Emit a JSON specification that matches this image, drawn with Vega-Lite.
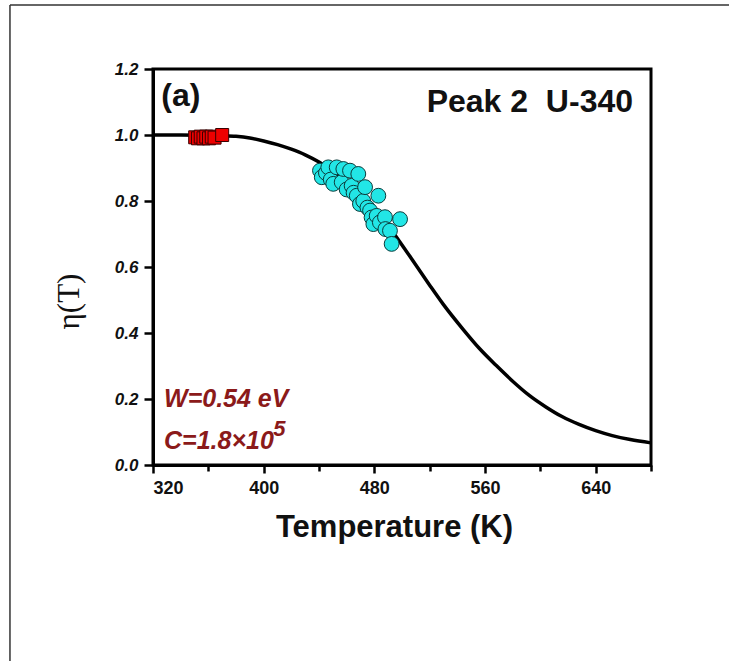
{
  "$schema": "https://vega.github.io/schema/vega-lite/v6.json",
  "width": 498,
  "height": 396,
  "autosize": "none",
  "padding": {"left": 153, "top": 69, "right": 78, "bottom": 196},
  "background": "white",
  "config": {
    "view": {"stroke": "black", "strokeWidth": 3},
    "font": "Liberation Sans"
  },
  "datasets": {
    "curve": [
      {"T": 320, "eta": 1.0}, {"T": 340, "eta": 1.0}, {"T": 360, "eta": 0.999}, {"T": 370, "eta": 0.998},
      {"T": 380, "eta": 0.996}, {"T": 390, "eta": 0.991}, {"T": 400, "eta": 0.982}, {"T": 410, "eta": 0.971},
      {"T": 420, "eta": 0.957}, {"T": 430, "eta": 0.94}, {"T": 440, "eta": 0.918}, {"T": 450, "eta": 0.891},
      {"T": 460, "eta": 0.859}, {"T": 470, "eta": 0.821}, {"T": 480, "eta": 0.777}, {"T": 490, "eta": 0.725},
      {"T": 500, "eta": 0.667}, {"T": 510, "eta": 0.606}, {"T": 520, "eta": 0.545}, {"T": 530, "eta": 0.486},
      {"T": 544, "eta": 0.412}, {"T": 556, "eta": 0.353}, {"T": 568, "eta": 0.302}, {"T": 580, "eta": 0.254},
      {"T": 592, "eta": 0.211}, {"T": 604, "eta": 0.176}, {"T": 616, "eta": 0.146}, {"T": 628, "eta": 0.123},
      {"T": 640, "eta": 0.104}, {"T": 652, "eta": 0.089}, {"T": 665, "eta": 0.077}, {"T": 680, "eta": 0.067}
    ],
    "squares": [
      {"T": 350.5, "eta": 0.993}, {"T": 352.5, "eta": 0.99}, {"T": 354.5, "eta": 0.995}, {"T": 356.5, "eta": 0.99},
      {"T": 358.5, "eta": 0.995}, {"T": 360.5, "eta": 0.99}, {"T": 362.5, "eta": 0.995}, {"T": 364.5, "eta": 0.992},
      {"T": 370, "eta": 1.0}
    ],
    "circles": [
      {"T": 440.7, "eta": 0.892}, {"T": 442, "eta": 0.872}, {"T": 445, "eta": 0.885}, {"T": 446.7, "eta": 0.902},
      {"T": 448.5, "eta": 0.865}, {"T": 450.3, "eta": 0.852}, {"T": 452.8, "eta": 0.902}, {"T": 456.4, "eta": 0.857},
      {"T": 457.6, "eta": 0.897}, {"T": 460, "eta": 0.835}, {"T": 462.4, "eta": 0.892}, {"T": 463.6, "eta": 0.846},
      {"T": 465, "eta": 0.825}, {"T": 467.3, "eta": 0.816}, {"T": 468.4, "eta": 0.882}, {"T": 469.6, "eta": 0.791},
      {"T": 472, "eta": 0.8}, {"T": 473.3, "eta": 0.842}, {"T": 475, "eta": 0.78}, {"T": 476.9, "eta": 0.771},
      {"T": 478, "eta": 0.75}, {"T": 479.3, "eta": 0.73}, {"T": 481.7, "eta": 0.755}, {"T": 482.9, "eta": 0.816},
      {"T": 484, "eta": 0.735}, {"T": 487.7, "eta": 0.751}, {"T": 488, "eta": 0.715}, {"T": 491.3, "eta": 0.71},
      {"T": 492.5, "eta": 0.67}, {"T": 498.6, "eta": 0.745}
    ],
    "labels": [
      {"T": 326, "eta": 1.088, "label": "(a)"},
      {"T": 667, "eta": 1.07, "label": "Peak 2\u00a0\u00a0U-340"}
    ],
    "params": [
      {"T": 328, "eta": 0.175, "label": "W=0.54 eV"},
      {"T": 328, "eta": 0.048, "label": "C=1.8×10"}
    ],
    "sup": [
      {"T": 407, "eta": 0.088, "label": "5"}
    ]
  },
  "layer": [
    {
      "data": {"name": "curve"},
      "mark": {"type": "line", "color": "black", "strokeWidth": 3.5, "interpolate": "monotone"},
      "encoding": {
        "x": {
          "field": "T", "type": "quantitative",
          "scale": {"domain": [320, 680], "nice": false, "zero": false},
          "axis": {
            "title": "Temperature (K)",
            "values": [320, 360, 400, 440, 480, 520, 560, 600, 640, 680],
            "labelExpr": "datum.value % 80 === 0 && datum.value < 680 ? datum.label : ''",
            "grid": false,
            "domainColor": "black", "domainWidth": 3,
            "tickColor": "black", "tickWidth": 2.5,
            "tickSize": {"condition": {"test": "datum.value % 80 === 0", "value": 8}, "value": 6},
            "labelFont": "Liberation Sans", "labelFontSize": 18, "labelFontWeight": "bold", "labelColor": "#111",
            "labelPadding": 6,
            "titleFont": "Liberation Sans", "titleFontSize": 31, "titleFontWeight": "bold", "titleColor": "#111",
            "titleX": 241, "titleY": 71, "titleBaseline": "alphabetic"
          }
        },
        "y": {
          "field": "eta", "type": "quantitative",
          "scale": {"domain": [0, 1.2], "nice": false, "zero": false},
          "axis": {
            "title": "η(T)",
            "values": [0, 0.1, 0.2, 0.3, 0.4, 0.5, 0.6, 0.7, 0.8, 0.9, 1.0, 1.1, 1.2],
            "format": ".1f",
            "labelExpr": "round(datum.value * 10) % 2 === 0 ? datum.label : ''",
            "grid": false,
            "domainColor": "black", "domainWidth": 3,
            "tickColor": "black", "tickWidth": 2.5,
            "tickSize": {"condition": {"test": "round(datum.value * 10) % 2 === 0", "value": 9}, "value": 6},
            "labelFont": "Liberation Sans", "labelFontSize": 17, "labelFontWeight": "bold", "labelFontStyle": "italic", "labelColor": "#111",
            "labelPadding": 6,
            "titleFont": "Liberation Serif", "titleFontSize": 31, "titleFontWeight": "normal", "titleColor": "#111",
            "titleX": -68, "titleY": 232, "titleAngle": -90, "titleBaseline": "bottom", "titleAlign": "center"
          }
        }
      }
    },
    {
      "data": {"name": "squares"},
      "mark": {"type": "point", "shape": "square", "filled": true, "size": 169, "color": "#ee0000", "stroke": "#3a0000", "strokeWidth": 1, "opacity": 1},
      "encoding": {"x": {"field": "T", "type": "quantitative"}, "y": {"field": "eta", "type": "quantitative"}}
    },
    {
      "data": {"name": "circles"},
      "mark": {"type": "point", "shape": "circle", "filled": true, "size": 220, "color": "#22e6e6", "stroke": "#0b3b3b", "strokeWidth": 1, "opacity": 1},
      "encoding": {"x": {"field": "T", "type": "quantitative"}, "y": {"field": "eta", "type": "quantitative"}}
    },
    {
      "data": {"name": "labels"},
      "transform": [{"filter": "datum.label === '(a)'"}],
      "mark": {"type": "text", "font": "Liberation Sans", "fontSize": 32, "fontWeight": "bold", "align": "left", "baseline": "alphabetic", "color": "#111"},
      "encoding": {"x": {"field": "T", "type": "quantitative"}, "y": {"field": "eta", "type": "quantitative"}, "text": {"field": "label"}}
    },
    {
      "data": {"name": "labels"},
      "transform": [{"filter": "datum.label !== '(a)'"}],
      "mark": {"type": "text", "font": "Liberation Sans", "fontSize": 32, "fontWeight": "bold", "align": "right", "baseline": "alphabetic", "color": "#111"},
      "encoding": {"x": {"field": "T", "type": "quantitative"}, "y": {"field": "eta", "type": "quantitative"}, "text": {"field": "label"}}
    },
    {
      "data": {"name": "params"},
      "mark": {"type": "text", "font": "Liberation Sans", "fontSize": 25, "fontWeight": "bold", "fontStyle": "italic", "align": "left", "baseline": "alphabetic", "color": "#8b1a1a"},
      "encoding": {"x": {"field": "T", "type": "quantitative"}, "y": {"field": "eta", "type": "quantitative"}, "text": {"field": "label"}}
    },
    {
      "data": {"name": "sup"},
      "mark": {"type": "text", "font": "Liberation Sans", "fontSize": 22, "fontWeight": "bold", "fontStyle": "italic", "align": "left", "baseline": "alphabetic", "color": "#8b1a1a"},
      "encoding": {"x": {"field": "T", "type": "quantitative"}, "y": {"field": "eta", "type": "quantitative"}, "text": {"field": "label"}}
    },
    {
      "data": {"values": [{"k": 1}]},
      "mark": {"type": "rule", "color": "#333", "strokeWidth": 1.5, "clip": false},
      "encoding": {"x": {"datum": 216.6}, "y": {"datum": 1.394}, "y2": {"datum": -0.6}}
    },
    {
      "data": {"values": [{"k": 1}]},
      "mark": {"type": "rule", "color": "#333", "strokeWidth": 1.5, "clip": false},
      "encoding": {"x": {"datum": 216.6}, "x2": {"datum": 737}, "y": {"datum": 1.394}}
    }
  ]
}
